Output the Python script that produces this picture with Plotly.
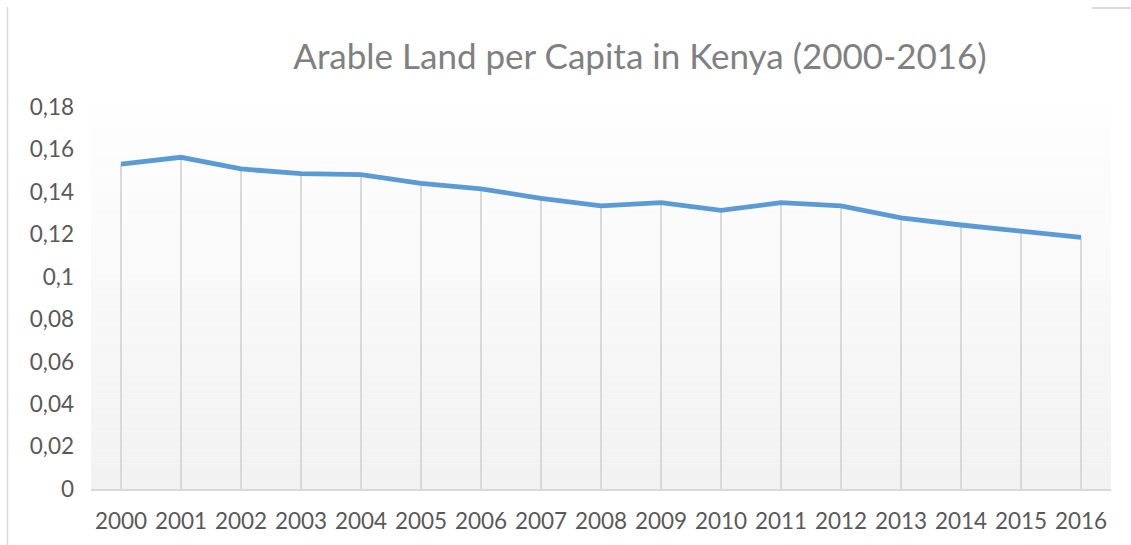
import plotly.graph_objects as go

years = [str(y) for y in range(2000, 2017)]
arable_land = [0.1531, 0.1563, 0.1508, 0.1486, 0.1481, 0.1440, 0.1414, 0.1370,
               0.1334, 0.1349, 0.1313, 0.1349, 0.1334, 0.1278, 0.1244, 0.1216, 0.1186]
y_tickvals = [0, 0.02, 0.04, 0.06, 0.08, 0.10, 0.12, 0.14, 0.16, 0.18]
y_ticktext = ["0", "0,02", "0,04", "0,06", "0,08", "0,1", "0,12", "0,14", "0,16", "0,18"]
title_text = "Arable Land per Capita in Kenya (2000-2016)"

FONT = "Lato, 'Open Sans', sans-serif"

fig = go.Figure()

# drop lines
fig.add_trace(go.Scatter(
    x=years, y=arable_land, mode="markers",
    marker=dict(size=0.1, color="rgba(0,0,0,0)"),
    error_y=dict(type="data", symmetric=False, array=[0] * len(arable_land),
                 arrayminus=arable_land, color="#d9d9d9", thickness=2, width=0),
    hoverinfo="skip", showlegend=False,
))

fig.add_trace(go.Scatter(
    x=years, y=arable_land, mode="lines",
    line=dict(color="#5b9bd5", width=4.8),
    showlegend=False,
))

# gradient background bands
shapes = []
n = 60
for i in range(n):
    t = i / (n - 1)
    c = int(round(242 + (254 - 242) * t))
    shapes.append(dict(type="rect", xref="paper", yref="paper",
                       x0=0, x1=1, y0=i / n, y1=(i + 1) / n,
                       fillcolor=f"rgb({c},{c},{c})", line=dict(width=0),
                       layer="below"))
# chart frame remnants
shapes.append(dict(type="line", xref="paper", yref="paper",
                   x0=-(91 - 7.5) / 1020, x1=-(91 - 7.5) / 1020,
                   y0=-56 / 382, y1=(489 - 7) / 382,
                   line=dict(color="#d9d9d9", width=1.5)))
shapes.append(dict(type="line", xref="paper", yref="paper",
                   x0=(1092 - 91) / 1020, x1=(1131 - 91) / 1020,
                   y0=(489 - 8) / 382, y1=(489 - 8) / 382,
                   line=dict(color="#d9d9d9", width=2)))

fig.update_layout(
    width=1131, height=545,
    margin=dict(l=91, r=20, t=107, b=56, autoexpand=False),
    paper_bgcolor="white", plot_bgcolor="rgba(0,0,0,0)",
    shapes=shapes,
    title=dict(text=title_text, x=640 / 1131, xref="container", xanchor="center",
               y=1 - 57 / 545, yref="container", yanchor="middle",
               font=dict(family=FONT, size=35, color="#808080")),
    xaxis=dict(type="category", range=[-0.5, 16.5], showgrid=False,
               showline=True, linecolor="#d9d9d9", linewidth=1.5,
               tickfont=dict(family=FONT, size=22.5, color="#595959"),
               ticks="", ticklabelstandoff=11, zeroline=False, automargin=False),
    yaxis=dict(range=[0, 0.18], tickvals=y_tickvals, ticktext=y_ticktext,
               showgrid=False, zeroline=False, showline=False,
               tickfont=dict(family=FONT, size=22.5, color="#595959"),
               ticks="", ticklabelstandoff=16, automargin=False),
    hovermode=False,
)

fig.write_html("out.html",
               config={"displayModeBar": False},
               post_script="document.body.style.margin='0';document.body.style.padding='0';")
